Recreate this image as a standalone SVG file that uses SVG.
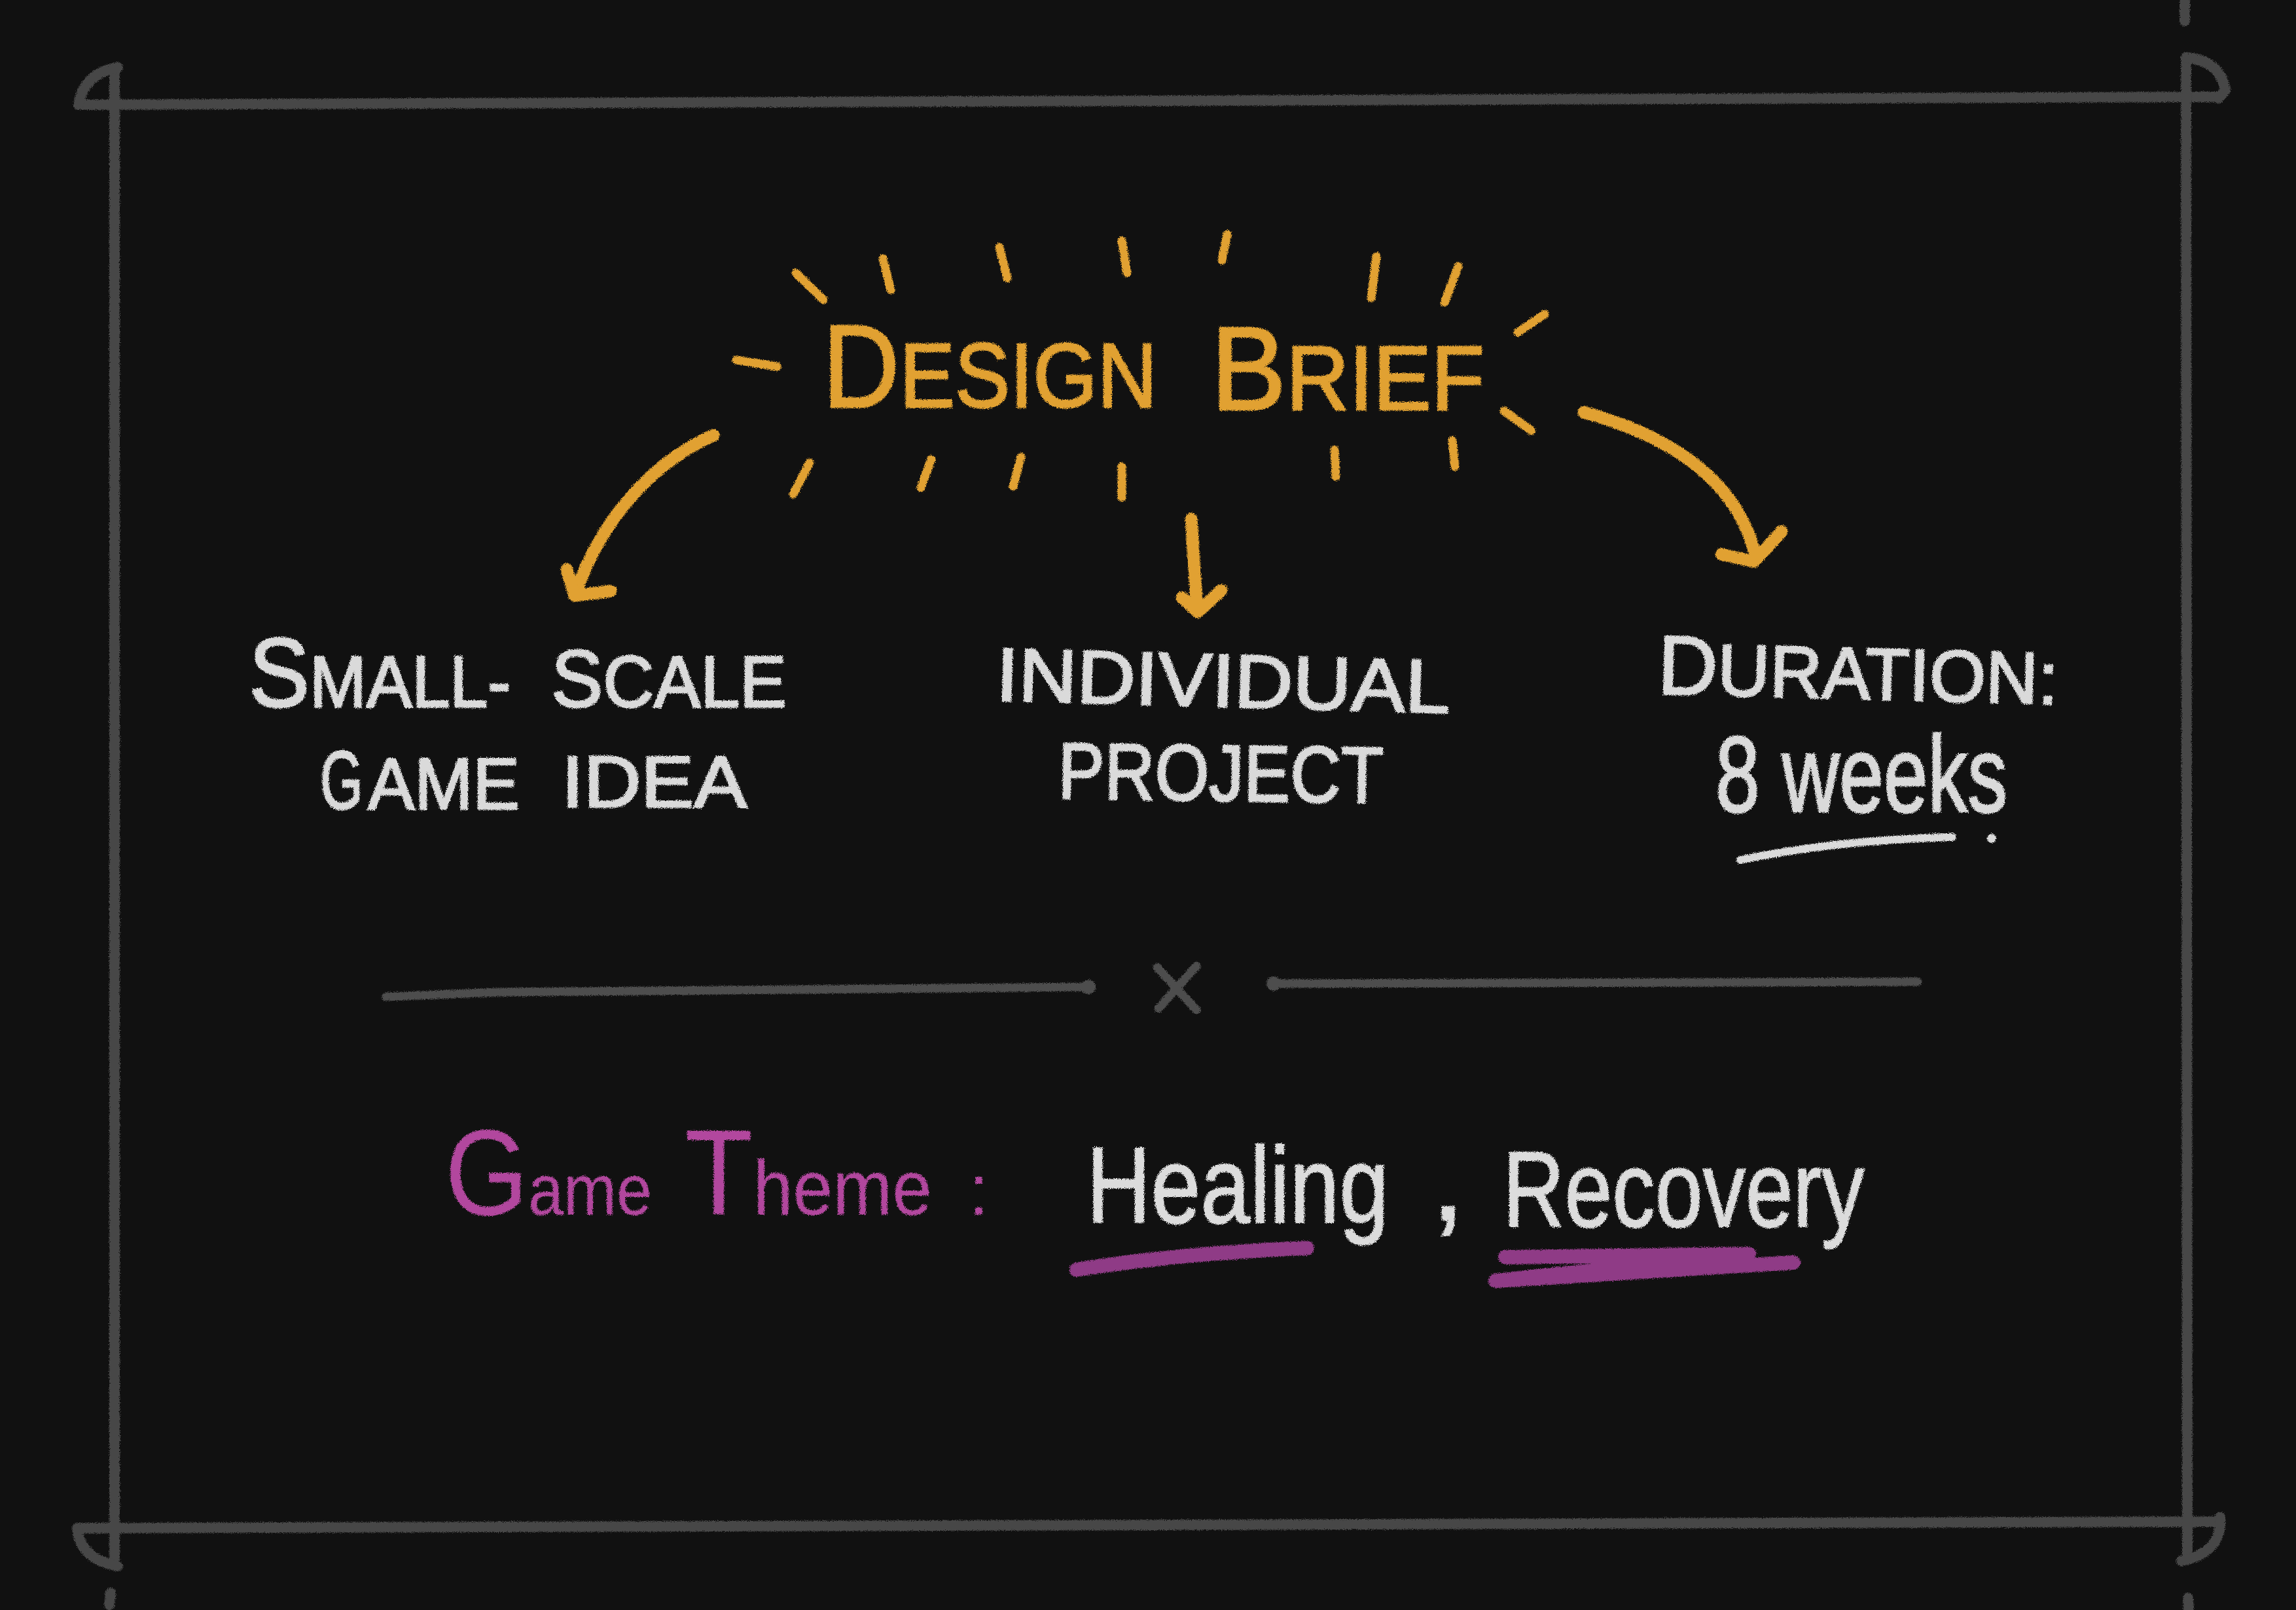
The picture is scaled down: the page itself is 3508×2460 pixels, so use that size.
<svg xmlns="http://www.w3.org/2000/svg" width="3508" height="2460" viewBox="0 0 3508 2460">
<defs>
<filter id="chalk" filterUnits="userSpaceOnUse" x="0" y="0" width="3508" height="2460">
<feTurbulence type="fractalNoise" baseFrequency="0.9" numOctaves="2" seed="2" result="n"/>
<feDisplacementMap in="SourceGraphic" in2="n" scale="7" xChannelSelector="R" yChannelSelector="G"/>
</filter>
<style>
.frame{fill:none;stroke:#464646;stroke-width:16;stroke-linecap:round}
.y{fill:none;stroke:#E1A130;stroke-linecap:round;stroke-linejoin:round}
.ray{stroke-width:13}
.arr{stroke-width:19}
.title{font-family:"Liberation Sans",Arial,sans-serif;fill:#E1A130;stroke:#E1A130;stroke-width:3}
.cap{font-family:"Liberation Sans",Arial,sans-serif;fill:#DADADA;stroke:#DADADA;stroke-width:3}
.div{fill:none;stroke:#4E4E4E;stroke-width:13;stroke-linecap:round}
.mag{font-family:"Liberation Sans",Arial,sans-serif;fill:#B2479E}
.hand{font-family:"Liberation Sans",Arial,sans-serif;fill:#DCDCDC;stroke:#DCDCDC;stroke-width:2}
.ul{fill:none;stroke:#8F3A86;stroke-width:22;stroke-linecap:round;stroke-linejoin:round}
.wl{fill:none;stroke:#DADADA;stroke-width:12;stroke-linecap:round}
</style>
</defs>
<rect width="3508" height="2460" fill="#111111"/>
<g filter="url(#chalk)">
<g id="frame">
<path class="frame" d="M120,160 L3388,148"/>
<path class="frame" d="M118,2335 L3392,2325"/>
<path class="frame" d="M175,104 L175,2380"/>
<path class="frame" d="M3340,88 L3342,2383"/>
<path class="frame" d="M3338,2 L3338,32"/>
<path class="frame" d="M120,160 Q128,112 180,103"/>
<path class="frame" d="M3340,88 Q3392,92 3400,138 L3390,150"/>
<path class="frame" d="M118,2335 Q122,2382 180,2393"/>
<path class="frame" d="M3392,2318 Q3396,2372 3333,2385"/>
<path class="frame" d="M169,2434 L167,2452"/>
<path class="frame" d="M3343,2442 L3344,2460"/>
</g>
<g id="title">
<g class="y ray">
<path d="M1216,417 L1258,458"/>
<path d="M1349,395 L1361,443"/>
<path d="M1527,378 L1539,425"/>
<path d="M1714,368 L1722,417"/>
<path d="M1875,358 L1867,398"/>
<path d="M2103,392 L2095,455"/>
<path d="M2228,407 L2207,462"/>
<path d="M1125,550 L1187,560"/>
<path d="M2360,480 L2319,508"/>
<path d="M2298,628 L2340,658"/>
<path d="M1237,707 L1212,755"/>
<path d="M1423,702 L1407,745"/>
<path d="M1560,698 L1548,743"/>
<path d="M1714,713 L1714,760"/>
<path d="M2039,687 L2041,728"/>
<path d="M2219,673 L2223,713"/>
</g>
<text class="title" x="1257" y="622" textLength="511" lengthAdjust="spacingAndGlyphs"><tspan font-size="180">D</tspan><tspan font-size="140">ESIGN</tspan></text>
<text class="title" x="1850" y="626" textLength="418" lengthAdjust="spacingAndGlyphs"><tspan font-size="182">B</tspan><tspan font-size="140">RIEF</tspan></text>
</g>
<g id="connectors">
<path class="y arr" d="M1090,665 C1000,705 920,790 880,905"/>
<path class="y arr" d="M866,870 L878,910 L933,903"/>
<path class="y arr" d="M1820,793 L1829,930"/>
<path class="y arr" d="M1806,913 L1830,935 L1866,902"/>
<path class="y arr" d="M2420,630 C2530,660 2650,720 2682,848"/>
<path class="y arr" d="M2630,847 L2680,858 L2722,812"/>
</g>
<g id="node-small-scale">
<text class="cap" x="380" y="1080" textLength="400" lengthAdjust="spacingAndGlyphs"><tspan font-size="150">S</tspan><tspan font-size="112">MALL-</tspan></text>
<text class="cap" x="842" y="1080" textLength="360" lengthAdjust="spacingAndGlyphs"><tspan font-size="124">S</tspan><tspan font-size="112">CALE</tspan></text>
<text class="cap" x="0" y="0" font-size="126" transform="translate(489 1236) scale(0.67 1)">G</text>
<text class="cap" x="0" y="0" font-size="112" transform="translate(562 1236) scale(0.955 1)">AME</text>
<text class="cap" x="858" y="1233" font-size="112" textLength="283" lengthAdjust="spacingAndGlyphs">IDEA</text>
</g>
<g id="node-individual">
<text class="cap" x="1521" y="1070" font-size="115" textLength="694" lengthAdjust="spacingAndGlyphs" transform="rotate(1.6 1521 1070)">INDIVIDUAL</text>
<text class="cap" x="1616" y="1220" font-size="122" textLength="497" lengthAdjust="spacingAndGlyphs" transform="rotate(0.8 1616 1220)">PROJECT</text>
</g>
<g id="node-duration">
<text class="cap" x="2532" y="1060" textLength="612" lengthAdjust="spacingAndGlyphs" transform="rotate(1.5 2532 1060)"><tspan font-size="128">D</tspan><tspan font-size="112">URATION:</tspan></text>
<text class="cap" x="2621" y="1240" font-size="165" textLength="446" lengthAdjust="spacingAndGlyphs">8 weeks</text>
<path class="wl" d="M2659,1314 Q2800,1284 2983,1279"/>
<circle cx="3043" cy="1281" r="7" fill="#DADADA"/>
</g>
<g id="divider">
<path class="div" d="M590,1523 L760,1516 L1663,1508"/>
<circle cx="1663" cy="1508" r="11" fill="#4E4E4E"/>
<path class="div" d="M1768,1478 L1828,1543 M1828,1476 L1770,1541"/>
<circle cx="1946" cy="1503" r="11" fill="#4E4E4E"/>
<path class="div" d="M1946,1503 L2930,1500"/>
</g>
<g id="node-theme">
<text class="mag" x="680" y="1856" textLength="316" lengthAdjust="spacingAndGlyphs"><tspan font-size="185">G</tspan><tspan font-size="110">ame</tspan></text>
<text class="mag" x="1046" y="1856" textLength="378" lengthAdjust="spacingAndGlyphs"><tspan font-size="185">T</tspan><tspan font-size="118">heme</tspan></text>
<text class="mag" x="1480" y="1856" font-size="110">:</text>
<text class="hand" x="0" y="0" font-size="165" transform="translate(1660 1868) scale(0.826 1)">Healing</text>
<text class="hand" x="2186" y="1864" font-size="190">,</text>
<text class="hand" x="0" y="0" font-size="165" transform="translate(2296 1874) scale(0.793 1)">Recovery</text>
<path class="ul" d="M1645,1940 Q1800,1915 1997,1907"/>
<path class="ul" d="M2300,1921 L2672,1916 L2285,1957 L2740,1929"/>
</g>
</g>
</svg>
